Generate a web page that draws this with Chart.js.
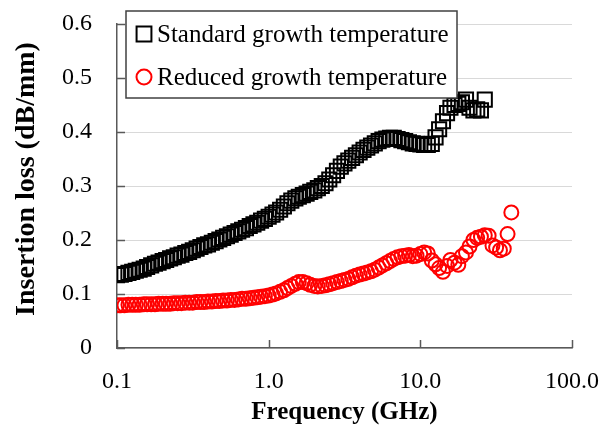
<!DOCTYPE html>
<html>
<head>
<meta charset="utf-8">
<script src="https://cdn.jsdelivr.net/npm/chart.js@4.4.1/dist/chart.umd.min.js"></script>
<style>
  html, body { margin: 0; padding: 0; background: #fff; }
  #wrap { width: 611px; height: 428px; }
</style>
</head>
<body>
<div id="wrap"><canvas id="lossChart" width="611" height="428"></canvas></div>
<script>
// Frequency points (GHz), shared by both series
const freqGHz = [
  0.100, 0.106, 0.112, 0.119, 0.126, 0.133, 0.141, 0.150, 0.158, 0.168,
  0.178, 0.188, 0.200, 0.211, 0.224, 0.237, 0.251, 0.266, 0.282, 0.299,
  0.316, 0.335, 0.355, 0.376, 0.398, 0.422, 0.447, 0.473, 0.501, 0.531,
  0.562, 0.596, 0.631, 0.668, 0.708, 0.750, 0.794, 0.841, 0.891, 0.944,
  1.00, 1.06, 1.12, 1.19, 1.26, 1.33, 1.41, 1.50, 1.58, 1.68,
  1.78, 1.88, 2.00, 2.11, 2.24, 2.37, 2.51, 2.66, 2.82, 2.99,
  3.16, 3.35, 3.55, 3.76, 3.98, 4.22, 4.47, 4.73, 5.01, 5.31,
  5.62, 5.96, 6.31, 6.68, 7.08, 7.50, 7.94, 8.41, 8.91, 9.44,
  10.0, 10.6, 11.2, 11.9, 12.6, 13.3, 14.1, 15.0, 15.8, 16.8,
  17.8, 18.8, 20.0, 21.1, 22.4, 23.7, 25.1, 26.6, 28.2, 29.9,
  31.6, 33.5, 35.5, 37.6, 39.8
];

// Insertion loss (dB/mm), standard growth temperature (stops at ~26.6 GHz)
const standardLoss = [
  0.135, 0.136, 0.137, 0.139, 0.141, 0.143, 0.145, 0.147, 0.150, 0.153,
  0.156, 0.158, 0.161, 0.163, 0.166, 0.168, 0.171, 0.173, 0.176, 0.178,
  0.181, 0.184, 0.187, 0.190, 0.192, 0.195, 0.198, 0.201, 0.204, 0.207,
  0.210, 0.213, 0.216, 0.219, 0.222, 0.226, 0.229, 0.232, 0.236, 0.239,
  0.243, 0.247, 0.251, 0.256, 0.262, 0.268, 0.273, 0.277, 0.280, 0.283,
  0.286, 0.289, 0.292, 0.296, 0.300, 0.305, 0.312, 0.320, 0.328, 0.336,
  0.342, 0.347, 0.352, 0.357, 0.362, 0.367, 0.371, 0.375, 0.379, 0.383,
  0.386, 0.388, 0.389, 0.389, 0.387, 0.385, 0.383, 0.381, 0.379, 0.378,
  0.377, 0.376, 0.376, 0.378, 0.390, 0.405, 0.420, 0.435, 0.445, 0.450,
  0.452, 0.455, 0.460, 0.445, 0.440, 0.442, 0.440, 0.460
];

// Insertion loss (dB/mm), reduced growth temperature
const reducedLoss = [
  0.079, 0.079, 0.079, 0.080, 0.080, 0.080, 0.080, 0.081, 0.081, 0.081,
  0.081, 0.082, 0.082, 0.082, 0.082, 0.083, 0.083, 0.083, 0.084, 0.084,
  0.084, 0.085, 0.085, 0.085, 0.086, 0.086, 0.087, 0.087, 0.088, 0.088,
  0.089, 0.089, 0.090, 0.091, 0.091, 0.092, 0.093, 0.094, 0.095, 0.096,
  0.097, 0.099, 0.101, 0.104, 0.107, 0.111, 0.115, 0.119, 0.122, 0.122,
  0.120, 0.117, 0.115, 0.114, 0.115, 0.116, 0.118, 0.120, 0.122, 0.124,
  0.126, 0.128, 0.131, 0.134, 0.136, 0.138, 0.140, 0.142, 0.145, 0.149,
  0.153, 0.157, 0.161, 0.165, 0.168, 0.170, 0.171, 0.172, 0.170, 0.171,
  0.174, 0.177, 0.175, 0.162, 0.155, 0.148, 0.141, 0.152, 0.163, 0.158,
  0.154, 0.170, 0.177, 0.188, 0.200, 0.204, 0.206, 0.209, 0.208, 0.190,
  0.186, 0.181, 0.184, 0.211, 0.251
];

const seriesNames = ['Standard growth temperature', 'Reduced growth temperature'];
const xTickValues = [0.1, 1, 10, 100];
const xTickLabels = ['0.1', '1.0', '10.0', '100.0'];
const yTickLabels = ['0', '0.1', '0.2', '0.3', '0.4', '0.5', '0.6'];

const serif = "'Liberation Serif', 'Times New Roman', serif";
const axisColor = '#595959';

function toPoints(values) {
    return values.map((v, i) => ({ x: freqGHz[i], y: v }));
}

// Excel-style tick marks pointing into the plot
const insideTicks = {
    id: 'insideTicks',
    afterDatasetsDraw(chart) {
        const { ctx, chartArea, scales } = chart;
        ctx.save();
        ctx.strokeStyle = axisColor;
        ctx.lineWidth = 1.5;
        ctx.beginPath();
        scales.y.ticks.forEach(t => {
            const py = Math.round(scales.y.getPixelForValue(t.value)) + 0.5;
            ctx.moveTo(chartArea.left, py);
            ctx.lineTo(chartArea.left + 8, py);
        });
        scales.x.ticks.forEach(t => {
            const px = Math.round(scales.x.getPixelForValue(t.value)) + 0.5;
            ctx.moveTo(px, chartArea.bottom);
            ctx.lineTo(px, chartArea.bottom - 8);
        });
        ctx.stroke();
        ctx.restore();
    }
};

// Boxed legend inside the plot, top left
const boxLegend = {
    id: 'boxLegend',
    afterDraw(chart) {
        const { ctx, chartArea } = chart;
        const left = chartArea.left + 9;
        const top = chartArea.top - 13;
        const width = 331;
        const height = 87;
        ctx.save();
        ctx.fillStyle = '#fff';
        ctx.fillRect(left, top, width, height);
        ctx.strokeStyle = '#404040';
        ctx.lineWidth = 1.5;
        ctx.strokeRect(left, top, width, height);

        ctx.font = '25px ' + serif;
        ctx.textBaseline = 'middle';
        ctx.textAlign = 'left';
        chart.data.datasets.forEach((ds, i) => {
            const cy = top + 23 + i * 43;
            ctx.strokeStyle = ds.borderColor;
            ctx.fillStyle = 'rgba(0,0,0,0)';
            ctx.lineWidth = ds.borderWidth;
            Chart.helpers.drawPoint(ctx, {
                pointStyle: ds.pointStyle,
                radius: ds.pointStyle === 'rect' ? 10.5 : 7.5,
                rotation: 0,
                borderWidth: ds.borderWidth
            }, left + 18, cy);
            ctx.fillStyle = '#000';
            ctx.fillText(ds.label, left + 31, cy + 1);
        });
        ctx.restore();
    }
};

new Chart(document.getElementById('lossChart'), {
    type: 'scatter',
    data: {
        datasets: [
            {
                label: seriesNames[0],
                data: toPoints(standardLoss),
                pointStyle: 'rect',
                pointRadius: 10,
                borderColor: '#000000',
                backgroundColor: 'rgba(0,0,0,0)',
                borderWidth: 2
            },
            {
                label: seriesNames[1],
                data: toPoints(reducedLoss),
                pointStyle: 'circle',
                pointRadius: 7,
                borderColor: '#ff0000',
                backgroundColor: 'rgba(0,0,0,0)',
                borderWidth: 2
            }
        ]
    },
    options: {
        responsive: false,
        animation: false,
        layout: { padding: { top: 24, right: 39, left: 0, bottom: 0 } },
        plugins: {
            legend: { display: false },
            tooltip: { enabled: false }
        },
        scales: {
            x: {
                type: 'logarithmic',
                min: 0.1,
                max: 100,
                afterBuildTicks: scale => {
                    scale.ticks = xTickValues.map(v => ({ value: v }));
                },
                afterFit: scale => {
                    scale.height = 80;
                    scale.paddingLeft = 0;
                    scale.paddingRight = 0;
                },
                grid: { display: false, drawTicks: false },
                border: { color: axisColor, width: 1.5 },
                ticks: {
                    autoSkip: false,
                    maxRotation: 0,
                    padding: 19,
                    color: '#000',
                    font: { family: serif, size: 24 },
                    callback: (value, index) => xTickLabels[index]
                },
                title: {
                    display: true,
                    text: 'Frequency (GHz)',
                    color: '#000',
                    font: { family: serif, size: 25, weight: 'bold' },
                    padding: { top: 0, bottom: 0 }
                }
            },
            y: {
                min: 0,
                max: 0.6,
                afterFit: scale => {
                    scale.width = 117;
                    scale.paddingTop = 0;
                    scale.paddingBottom = 0;
                },
                grid: { color: '#d9d9d9', lineWidth: 1, drawTicks: false },
                border: { color: axisColor, width: 1.5 },
                ticks: {
                    stepSize: 0.1,
                    padding: 25,
                    color: '#000',
                    font: { family: serif, size: 24 },
                    callback: (value, index) => yTickLabels[index]
                },
                title: {
                    display: true,
                    // leading spaces nudge the rotated title up a little, as in the original
                    text: '  Insertion loss (dB/mm)',
                    color: '#000',
                    font: { family: serif, size: 28, weight: 'bold' },
                    padding: { top: 10, bottom: 0 }
                }
            }
        }
    },
    plugins: [insideTicks, boxLegend]
});
</script>
</body>
</html>
